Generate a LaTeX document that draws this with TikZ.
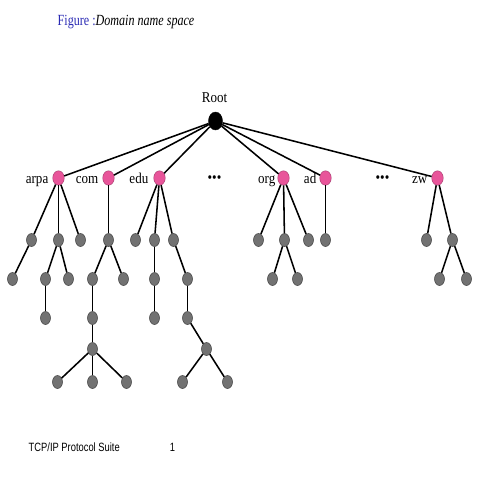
\documentclass[tikz,border=0pt]{standalone}
\usepackage{fontspec}
\setmainfont{Liberation Serif}[FakeStretch=0.87]
\newfontfamily\titlefont{Liberation Serif}[FakeStretch=0.78]
\newfontfamily\footfont{Liberation Sans}[FakeStretch=0.78]
\usetikzlibrary{shapes.geometric}
\definecolor{pinkn}{HTML}{E8559A}
\definecolor{grayn}{HTML}{727272}
\definecolor{titleblue}{HTML}{2A2AB4}
\begin{document}
\begin{tikzpicture}[x=1pt,y=-1pt,
  rootn/.style={ellipse,fill=black,draw=black,minimum width=14pt,minimum height=18pt,inner sep=0pt},
  domn/.style={ellipse,fill=pinkn,draw=pinkn!70!black,line width=0.4pt,minimum width=11.5pt,minimum height=14.5pt,inner sep=0pt},
  leafn/.style={ellipse,fill=grayn,draw=black!75,line width=0.5pt,minimum width=10pt,minimum height=13pt,inner sep=0pt},
  lbl/.style={font=\fontsize{15}{16}\selectfont,inner sep=0pt},
  dotsn/.style={font=\fontsize{15}{16}\selectfont,inner sep=0pt},
  edge/.style={draw=black,line width=1.55pt}]
\useasboundingbox (-0.5,0) rectangle (479.5,480);
% title and footer
\node[anchor=base west,inner sep=0pt,font=\titlefont\fontsize{15.5}{17}\selectfont] (title) at (57,25)
  {\textcolor{titleblue}{Figure :}\textit{Domain name space}};
\node[anchor=base west,inner sep=0pt,font=\footfont\fontsize{12}{13}\selectfont] (foot) at (28,451) {TCP/IP Protocol Suite};
\node[anchor=base,inner sep=0pt,font=\footfont\fontsize{12}{13}\selectfont] (page) at (172,451) {1};
% root
\node[rootn] (root) at (215,121) {};
\node[lbl,anchor=base] (rootl) at (214,102) {Root};
% second level
\node[domn] (arpa) at (58,178) {};
\node[domn] (com) at (108,178) {};
\node[domn] (edu) at (159,178) {};
\node[domn] (org) at (283,178) {};
\node[domn] (ad) at (325,178) {};
\node[domn] (zw) at (437,178) {};
\node[lbl,anchor=base east] (arpal) at (48,183) {arpa};
\node[lbl,anchor=base east] (coml) at (98,183) {com};
\node[lbl,anchor=base east] (edul) at (148,183) {edu};
\node[lbl,anchor=base east] (orgl) at (275,183) {org};
\node[lbl,anchor=base east] (adl) at (316,183) {ad};
\node[lbl,anchor=base east] (zwl) at (427,183) {zw};
\node[dotsn] (dotsa) at (214,179) {•••};
\node[dotsn] (dotsb) at (382,179) {•••};
% third level
\foreach \n/\x in {a1/31,a2/58,a3/80,c1/108,e1/135,e2/154,e3/173,o1/258,o2/284,o3/308,d1/325,z1/426,z2/452}
  \node[leafn] (\n) at (\x,240) {};
% fourth level
\foreach \n/\x in {a11/12,a21/45,a22/68,c11/92,c12/123,e21/154,e31/187,o21/272,o22/297,z21/439,z22/466}
  \node[leafn] (\n) at (\x,279) {};
% fifth level
\foreach \n/\x in {a211/45,c111/92,e211/154,e311/187}
  \node[leafn] (\n) at (\x,318) {};
% sixth level
\node[leafn] (c1111) at (92,349) {};
\node[leafn] (e3111) at (206,349) {};
% seventh level
\foreach \n/\x in {ca/57,cb/92,cc/126,ea/182,eb/227}
  \node[leafn] (\n) at (\x,382) {};
% edges
\foreach \t in {arpa,com,edu,org,ad,zw} \draw[edge] (root) -- (\t);
\foreach \t in {a1,a2,a3} \draw[edge] (arpa) -- (\t);
\draw[edge] (com) -- (c1);
\foreach \t in {e1,e2,e3} \draw[edge] (edu) -- (\t);
\foreach \t in {o1,o2,o3} \draw[edge] (org) -- (\t);
\draw[edge] (ad) -- (d1);
\foreach \t in {z1,z2} \draw[edge] (zw) -- (\t);
\draw[edge] (a1) -- (a11);
\draw[edge] (a2) -- (a21);
\draw[edge] (a2) -- (a22);
\draw[edge] (c1) -- (c11);
\draw[edge] (c1) -- (c12);
\draw[edge] (e2) -- (e21);
\draw[edge] (e3) -- (e31);
\draw[edge] (o2) -- (o21);
\draw[edge] (o2) -- (o22);
\draw[edge] (z2) -- (z21);
\draw[edge] (z2) -- (z22);
\draw[edge] (a21) -- (a211);
\draw[edge] (c11) -- (c111);
\draw[edge] (e21) -- (e211);
\draw[edge] (e31) -- (e311);
\draw[edge] (c111) -- (c1111);
\draw[edge] (e311) -- (e3111);
\foreach \t in {ca,cb,cc} \draw[edge] (c1111) -- (\t);
\foreach \t in {ea,eb} \draw[edge] (e3111) -- (\t);
\end{tikzpicture}
\end{document}
